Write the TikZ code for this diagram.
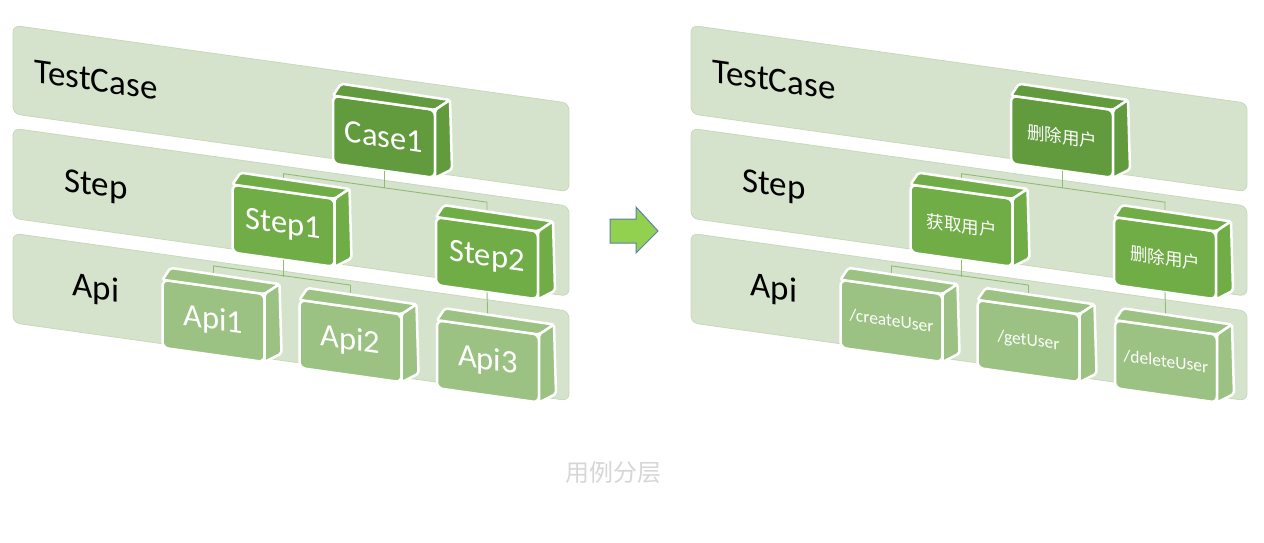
\documentclass[tikz,border=0pt]{standalone}
\usepackage{fontspec}
\setmainfont{Carlito}
\newfontfamily\cjk{Noto Sans CJK SC}
\usepackage{tikz}

\definecolor{bandgreen}{HTML}{D6E3CC}
\definecolor{bandedge}{HTML}{C8D8BB}
\definecolor{casegreen}{HTML}{629B3D}
\definecolor{stepgreen}{HTML}{70AD47}
\definecolor{apigreen}{HTML}{9BC282}
\definecolor{linkgreen}{HTML}{8FBC72}
\definecolor{arrowgreen}{HTML}{92D050}
\definecolor{arrowedge}{HTML}{5B7FA6}
\definecolor{captiongray}{HTML}{D6D6D6}

\begin{document}
\begin{tikzpicture}[
    x=1pt, y=-1pt,
    bandbox/.style={rectangle, rounded corners=7pt, fill=bandgreen, draw=bandedge, line width=0.8pt, minimum width=556pt, outer sep=0pt},
    layerlabel/.style={font=\fontsize{35}{35}\selectfont, text=black},
    cubebox/.style={rectangle, rounded corners=6pt, draw=white, line width=2.5pt, minimum width=102pt, minimum height=68pt, outer sep=0pt, inner sep=0pt, text=white, font=\fontsize{32.5}{32.5}\selectfont},
    cubeface/.style={draw=white, line width=2.5pt, rounded corners=2pt, line join=round},
    cjkbox/.style={font=\cjk\fontsize{17.5}{17.5}\selectfont},
    pathbox/.style={font=\fontsize{17.5}{17.5}\selectfont},
    treelink/.style={draw=linkgreen, line width=0.9pt},
    slanted/.style={yslant=-0.14, transform shape}
]
\useasboundingbox (0,0) rectangle (1264,542);

% Left panel: layers with named blocks
\begin{scope}[slanted]
\node[bandbox, minimum height=88.5pt] (caseband) at (291, 67.75) {};
\node[bandbox, minimum height=90pt] (stepband) at (291, 171.5) {};
\node[bandbox, minimum height=89.5pt] (apiband) at (291, 276.25) {};
\node[layerlabel] at (96, 66.5) {TestCase};
\node[layerlabel] at (96, 173.5) {Step};
\node[layerlabel] at (96, 276.5) {Api};

\node[cubebox, fill=casegreen] (case1) at (384, 83) {Case1};
\node[cubebox, fill=stepgreen] (step1) at (283.5, 186) {Step1};
\node[cubebox, fill=stepgreen] (step2) at (487, 190) {Step2};
\node[cubebox, fill=apigreen] (api1) at (213.5, 291) {Api1};
\node[cubebox, fill=apigreen] (api2) at (350.5, 292) {Api2};
\node[cubebox, fill=apigreen] (api3) at (488, 293) {Api3};

% Tree links
\draw[treelink] (case1.south) -- ++(0,17);
\draw[treelink] (step1.north) -- ++(0,-18) -- ++(203.5,0) -- (step2.north);
\draw[treelink] (step1.south) -- ++(0,17);
\draw[treelink] (api1.north) -- ++(0,-21) -- ++(137,0) -- (api2.north);
\draw[treelink] (step2.south) -- (api3.north);

% Top and side faces
\foreach \n/\c in {case1/casegreen, step1/stepgreen, step2/stepgreen, api1/apigreen, api2/apigreen, api3/apigreen} {
  \draw[cubeface, fill=\c] (\n.north west) -- ++(8,-13) -- ++(109,1) -- (\n.north east) -- cycle;
  \draw[cubeface, fill=\c] (\n.north east) -- ++(15,-12) -- ++(2,69) -- (\n.south east) -- cycle;
}
\end{scope}

% Arrow between the panels
\draw[fill=arrowgreen, draw=arrowedge, line width=1pt] (610,219) -- (636,219) -- (636,207) -- (658,231) -- (636,253) -- (636,243) -- (610,243) -- cycle;

% Right panel: same layers with real calls
\begin{scope}[xshift=678pt, slanted]
\node[bandbox, minimum height=88.5pt] (rcaseband) at (291, 67.75) {};
\node[bandbox, minimum height=90pt] (rstepband) at (291, 171.5) {};
\node[bandbox, minimum height=89.5pt] (rapiband) at (291, 276.25) {};
\node[layerlabel] at (96, 66.5) {TestCase};
\node[layerlabel] at (96, 173.5) {Step};
\node[layerlabel] at (96, 276.5) {Api};

\node[cubebox, cjkbox, fill=casegreen] (delcase) at (384, 83) {删除用户};
\node[cubebox, cjkbox, fill=stepgreen] (getstep) at (283.5, 186) {获取用户};
\node[cubebox, cjkbox, fill=stepgreen] (delstep) at (487, 190) {删除用户};
\node[cubebox, pathbox, fill=apigreen] (createapi) at (213.5, 291) {/createUser};
\node[cubebox, pathbox, fill=apigreen] (getapi) at (350.5, 292) {/getUser};
\node[cubebox, pathbox, fill=apigreen] (deleteapi) at (488, 293) {/deleteUser};

% Tree links
\draw[treelink] (delcase.south) -- ++(0,17);
\draw[treelink] (getstep.north) -- ++(0,-18) -- ++(203.5,0) -- (delstep.north);
\draw[treelink] (getstep.south) -- ++(0,17);
\draw[treelink] (createapi.north) -- ++(0,-21) -- ++(137,0) -- (getapi.north);
\draw[treelink] (delstep.south) -- (deleteapi.north);

% Top and side faces
\foreach \n/\c in {delcase/casegreen, getstep/stepgreen, delstep/stepgreen, createapi/apigreen, getapi/apigreen, deleteapi/apigreen} {
  \draw[cubeface, fill=\c] (\n.north west) -- ++(8,-13) -- ++(109,1) -- (\n.north east) -- cycle;
  \draw[cubeface, fill=\c] (\n.north east) -- ++(15,-12) -- ++(2,69) -- (\n.south east) -- cycle;
}
\end{scope}

\node[font=\cjk\fontsize{24}{24}\selectfont, text=captiongray] (caption) at (613, 472) {用例分层};
\end{tikzpicture}
\end{document}
